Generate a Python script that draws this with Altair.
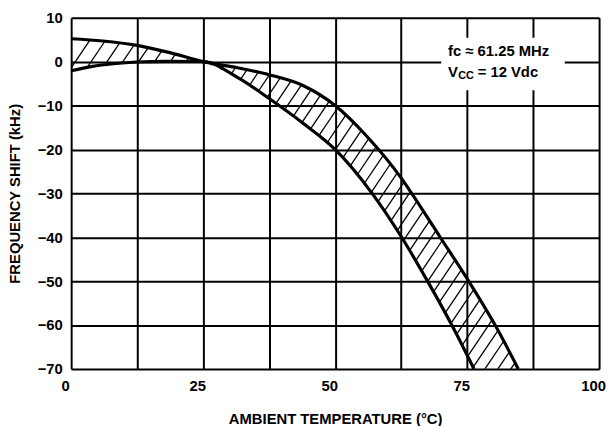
import altair as alt
import numpy as np
import pandas as pd

# ---- data ----
upper_x = [0, 6, 12.5, 18.5, 25, 31.5, 37.5, 44, 50, 56, 62.5, 64.5, 69.9, 75.3, 80.3, 84.7]
upper_y = [5.2, 4.7, 3.7, 2.1, 0, -1.4, -3.0, -5.5, -10, -17, -26.5, -30, -40, -50, -60, -70]
lower_x = [0, 4, 8, 12.5, 18, 25, 31.5, 37.5, 44, 50, 57, 62.6, 67.5, 72.1, 76.3]
lower_y = [-2.1, -1.1, -0.5, -0.1, 0.05, 0, -3.6, -8.4, -14.1, -20, -30, -40, -50, -60, -70]

x_ticks = [0, 12.5, 25, 37.5, 50, 62.5, 75, 87.5, 100]
y_ticks = [10, 0, -10, -20, -30, -40, -50, -60, -70]

note_line1 = "fc \u2248 61.25 MHz"
note_v = "V"
note_cc = "CC"
note_rest = "= 12 Vdc"

W, H = 535, 356
FONT = "Liberation Sans, Arial, sans-serif"

curves = pd.concat([
    pd.DataFrame({"x": upper_x, "y": upper_y, "curve": "upper"}),
    pd.DataFrame({"x": lower_x, "y": lower_y, "curve": "lower"}),
])

# ---- hatch lines between the two curves (derived from the curves) ----
def curve_at(xs, ys, xq):
    out = np.interp(xq, xs, ys)
    return np.where(xq > xs[-1], -1000.0, out)

m = np.tan(np.radians(56)) * (W / 100.0) / (H / 80.0)
xq = np.arange(0, 100.0001, 0.01)
lo = curve_at(lower_x, lower_y, xq)
up = curve_at(upper_x, upper_y, xq)
cs = list(np.arange(0.8, 25, 3.0)) + list(np.arange(27.0, 126, 2.45))
segs = []
for c in cs:
    yl = m * (xq - c)
    inside = (yl >= lo) & (yl <= up) & (yl >= -70)
    idx = np.nonzero(inside)[0]
    if len(idx) < 2:
        continue
    i0, i1 = idx[0], idx[-1]
    segs.append({"x": xq[i0], "y": yl[i0], "x2": xq[i1], "y2": yl[i1]})
hatch = pd.DataFrame(segs)

xscale = alt.Scale(domain=[0, 100], nice=False, zero=False)
yscale = alt.Scale(domain=[-70, 10], nice=False, zero=False)
xaxis = alt.Axis(
    values=x_ticks, labelExpr="datum.value % 25 == 0 ? datum.label : ''",
    title="AMBIENT TEMPERATURE (\u00b0C)", grid=True, ticks=False, domain=False,
    gridColor="black", gridWidth=2, gridOpacity=1,
    labelFont=FONT, labelFontSize=15, labelFontWeight="bold", labelColor="black",
    labelPadding=10, labelFlush=False, labelOffset=-6,
    titleFont=FONT, titleFontSize=15, titleFontWeight="bold", titleColor="black",
    titleY=55, titleBaseline="alphabetic",
)
yaxis = alt.Axis(
    values=y_ticks, title="FREQUENCY SHIFT (kHz)", grid=True, ticks=False, domain=False,
    gridColor="black", gridWidth=2, gridOpacity=1,
    labelFont=FONT, labelFontSize=15, labelFontWeight="bold", labelColor="black",
    labelPadding=9, labelFlush=False,
    titleFont=FONT, titleFontSize=15, titleFontWeight="bold", titleColor="black",
    titleAngle=270, titleX=-57, titleY=H / 2, titleAlign="center", titleBaseline="middle",
)

def X(f="x"):
    return alt.X(f, type="quantitative", scale=xscale, axis=xaxis)

def Y(f="y"):
    return alt.Y(f, type="quantitative", scale=yscale, axis=yaxis)

hatch_layer = alt.Chart(hatch).mark_rule(color="black", strokeWidth=1.3).encode(
    x=X(), y=Y(), x2="x2:Q", y2="y2:Q")

line_layer = alt.Chart(curves).mark_line(color="black", strokeWidth=3.2, interpolate="monotone").encode(
    x=X(), y=Y(), detail="curve:N")

box = pd.DataFrame({"x": [70.1], "x2": [93.5], "y": [5.4], "y2": [-6.5]})
box_layer = alt.Chart(box).mark_rect(color="white").encode(
    x=X(), y=Y(), x2="x2:Q", y2="y2:Q")

t1 = pd.DataFrame({"x": [71.4], "y": [2.5], "t": [note_line1]})
t2 = pd.DataFrame({"x": [71.4], "y": [-2.5], "t": [note_v]})
t3 = pd.DataFrame({"x": [73.3], "y": [-3.3], "t": [note_cc]})
t4 = pd.DataFrame({"x": [77.0], "y": [-2.5], "t": [note_rest]})

def txt(df, size):
    return alt.Chart(df).mark_text(align="left", baseline="middle", font=FONT,
                                   fontSize=size, fontWeight="bold", color="black").encode(
        x=X(), y=Y(), text="t:N")

chart = alt.layer(
    hatch_layer, line_layer, box_layer,
    txt(t1, 15), txt(t2, 15), txt(t3, 11), txt(t4, 15),
).properties(
    width=W, height=H,
    autosize=alt.AutoSizeParams(type="none"),
    padding={"left": 64, "top": 7, "right": 7, "bottom": 56},
).configure_view(stroke="black", strokeWidth=3).configure(background="white")

chart.save("out.html", embed_options={"renderer": "svg", "actions": False})
